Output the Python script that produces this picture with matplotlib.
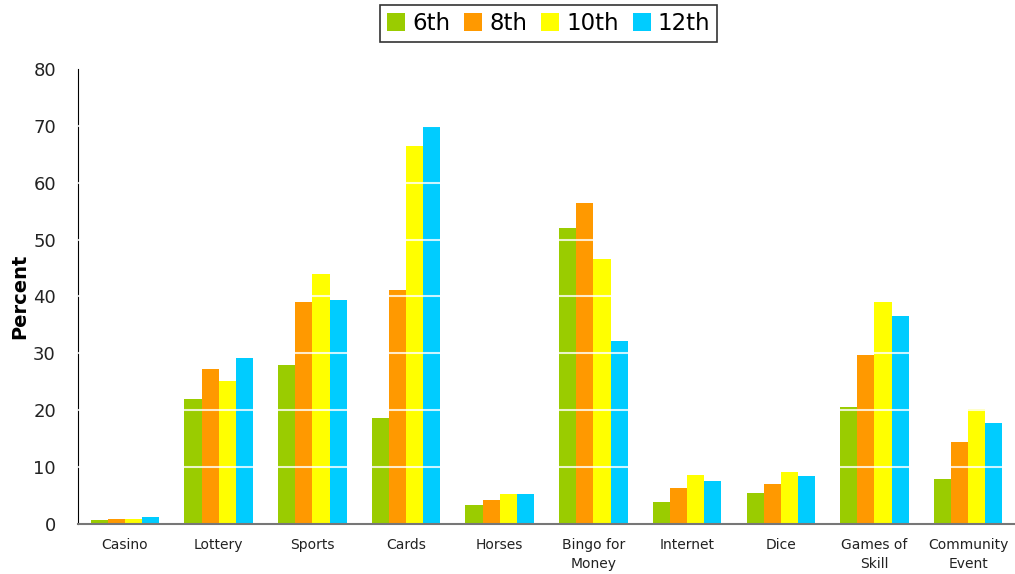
import numpy as np
import matplotlib.pyplot as plt

categories = ['Casino', 'Lottery', 'Sports', 'Cards', 'Horses', 'Bingo for\nMoney',
              'Internet', 'Dice', 'Games of\nSkill', 'Community\nEvent']
grade_6 = [0.7, 21.9, 28.0, 18.7, 3.3, 52.1, 3.8, 5.5, 20.5, 8.0]
grade_8 = [0.9, 27.3, 39.1, 41.2, 4.3, 56.5, 6.3, 7.1, 29.8, 14.5]
grade_10 = [0.9, 25.2, 44.0, 66.5, 5.2, 46.5, 8.7, 9.1, 39.1, 20.3]
grade_12 = [1.2, 29.1, 39.3, 69.8, 5.2, 32.2, 7.6, 8.5, 36.5, 17.8]

series = [('6th', grade_6, '#9ACC00'), ('8th', grade_8, '#FF9900'),
          ('10th', grade_10, '#FFFF00'), ('12th', grade_12, '#00CCFF')]

fig = plt.figure(figsize=(10.15, 5.74), dpi=100)
ax = fig.add_axes([0.077, 0.087, 0.923, 0.793])

x = np.arange(len(categories))
w = 0.183
for i, (name, vals, col) in enumerate(series):
    ax.bar(x + (i - 1.5) * w, vals, w, color=col, label=name, zorder=2)

# white gridlines drawn over the bars
for y in range(10, 80, 10):
    ax.axhline(y, color='white', lw=1.5, alpha=0.8, zorder=3)

ax.set_xlim(-0.5, 9.5)
ax.set_ylim(0, 80)
ax.set_yticks(range(0, 81, 10))
ax.set_xticks(x)
ax.set_xticklabels(categories, fontsize=10, color='#222222', linespacing=1.5)
ax.tick_params(axis='both', length=0)
ax.tick_params(axis='y', labelsize=13, pad=16, labelcolor='#222222')
ax.tick_params(axis='x', pad=10)
ax.set_ylabel('Percent', fontsize=14, fontweight='bold', labelpad=3)

for s in ['top', 'right']:
    ax.spines[s].set_visible(False)
ax.spines['left'].set_color('black')
ax.spines['bottom'].set_color('#777777')
ax.spines['bottom'].set_linewidth(1.5)
ax.spines['bottom'].set_zorder(4)

leg = fig.legend(loc='upper center', bbox_to_anchor=(0.5405, 0.991), ncol=4, fontsize=16.5,
                 frameon=True, fancybox=False, edgecolor='black', handlelength=0.8,
                 handleheight=0.85, handletextpad=0.3, columnspacing=0.6,
                 borderpad=0.3, borderaxespad=0.0)
leg.get_frame().set_linewidth(1.2)

fig.savefig('out.png', dpi=100)
